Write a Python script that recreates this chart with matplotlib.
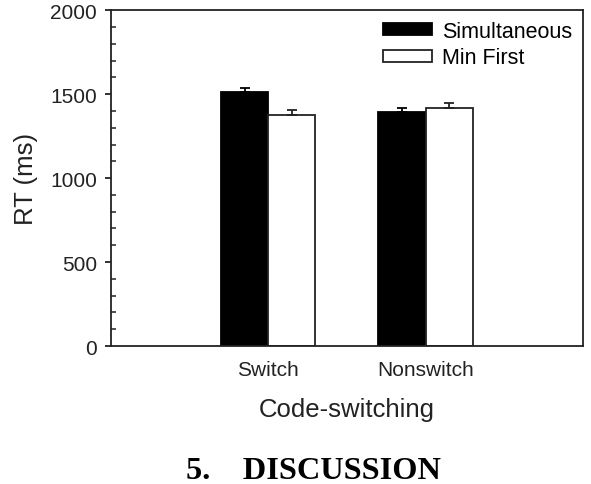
import matplotlib.pyplot as plt
import numpy as np

plt.rcParams['font.family'] = ['Liberation Sans', 'DejaVu Sans']

categories = ['Switch', 'Nonswitch']
conditions = ['Simultaneous', 'Min First']
simultaneous = [1512, 1394]
min_first = [1376, 1418]
simultaneous_err = [26, 26]
min_first_err = [27, 30]

x = np.arange(1, len(categories) + 1)
w = 0.3

fig = plt.figure(figsize=(5.91, 4.85), dpi=100)
ax = fig.add_axes([0.188, 0.2845, 0.798, 0.6925])

ax.bar(x - w / 2, simultaneous, w, color='black', edgecolor='black', linewidth=1.3,
       yerr=[np.zeros(2), simultaneous_err], capsize=3.5,
       error_kw=dict(elinewidth=1.3, capthick=1.3, ecolor='black'), label=conditions[0])
ax.bar(x + w / 2, min_first, w, color='white', edgecolor='#222222', linewidth=1.3,
       yerr=[np.zeros(2), min_first_err], capsize=3.5,
       error_kw=dict(elinewidth=1.3, capthick=1.3, ecolor='#222222'), label=conditions[1])

ax.set_xlim(0, 3)
ax.set_ylim(0, 2000)
ax.set_xticks(x)
ax.set_xticklabels(categories)
ax.set_yticks(np.arange(0, 2001, 500))
ax.set_yticks(np.arange(0, 2001, 100), minor=True)
ax.tick_params(axis='x', length=0, pad=10, labelsize=15, colors='#222222')
ax.tick_params(axis='y', which='major', direction='out', length=4, width=1.3,
               pad=6, labelsize=15, colors='#222222')
ax.tick_params(axis='y', which='minor', direction='in', length=3.5, width=1.1, colors='#222222')
for s in ax.spines.values():
    s.set_linewidth(1.3)
    s.set_color('#222222')

ax.set_xlabel('Code-switching', fontsize=18.5, color='#222222', labelpad=13)
ax.set_ylabel('RT (ms)', fontsize=18.5, color='#222222', labelpad=9)

ax.legend(loc='upper right', frameon=False, fontsize=15.5, handlelength=2.3,
          handleheight=0.5, handletextpad=0.45, labelspacing=0.25,
          borderaxespad=0.2, borderpad=0.3)

fig.text(186 / 591, 1 - 472 / 485, '5.    DISCUSSION', family='Liberation Serif',
         weight='bold', fontsize=23.3, ha='left', va='center', color='black')

fig.savefig('out.png', dpi=100)
